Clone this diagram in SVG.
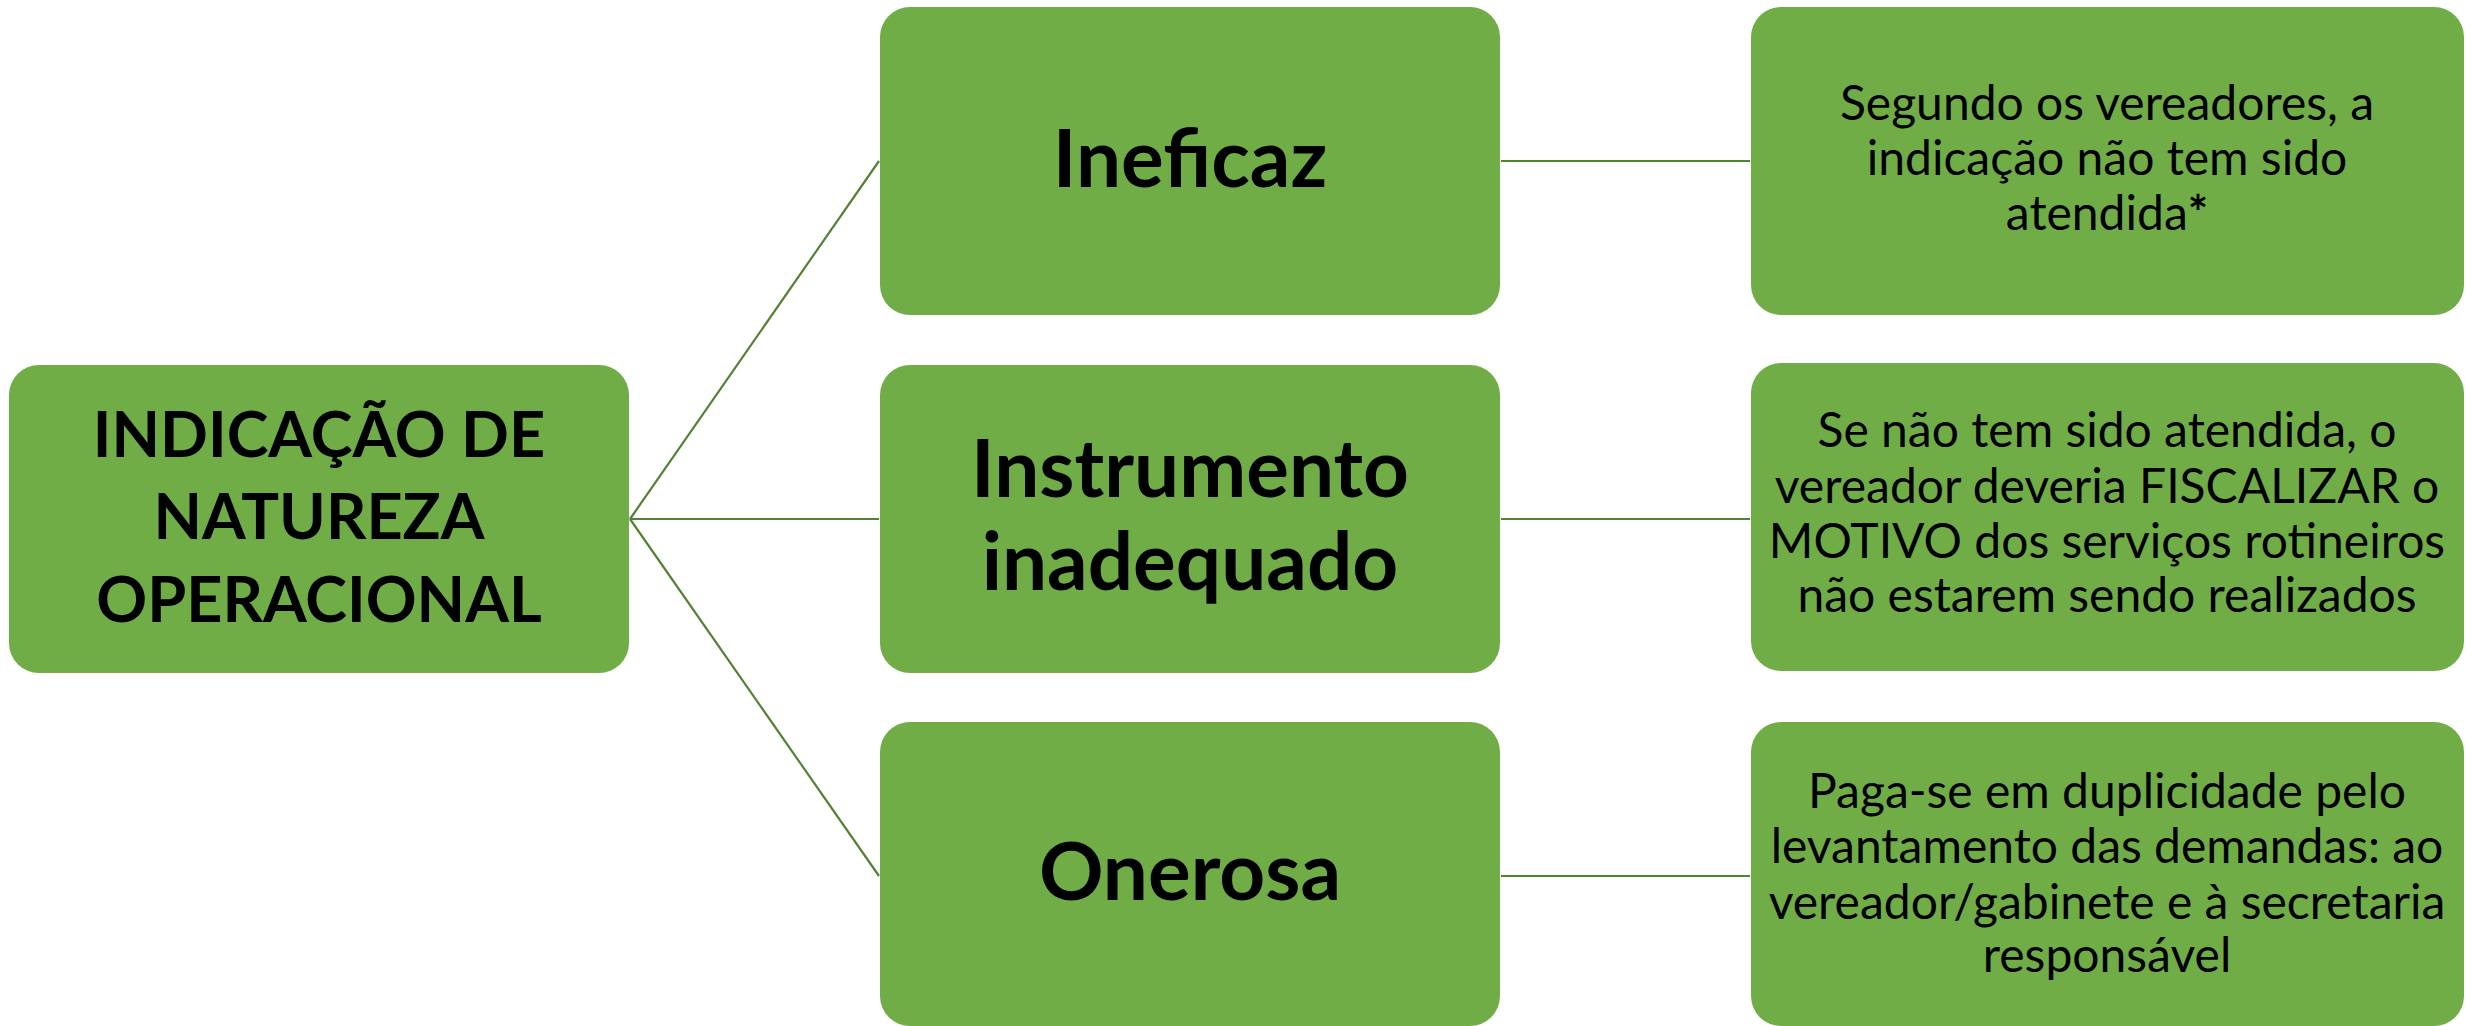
<svg xmlns="http://www.w3.org/2000/svg" width="2466" height="1026" viewBox="0 0 2466 1026">
<style>
.box{fill:#70AD47;}
.conn{stroke:#548235;stroke-width:2.2;fill:none;}
.t{font-family:Lato,"Open Sans","Liberation Sans",sans-serif;fill:#000;text-anchor:middle;}
.b{font-weight:bold;}
.big{font-size:80px;}
.root{font-size:63px;}
.small{font-size:48px;}
</style>
<rect width="2466" height="1026" fill="#fff"/>
<g id="connectors">
<line class="conn" x1="630" y1="519" x2="879" y2="161"/>
<line class="conn" x1="630" y1="519" x2="879" y2="519"/>
<line class="conn" x1="630" y1="519" x2="879" y2="876"/>
<line class="conn" x1="1501" y1="161" x2="1750" y2="161"/>
<line class="conn" x1="1501" y1="519" x2="1750" y2="519"/>
<line class="conn" x1="1501" y1="876" x2="1750" y2="876"/>
</g>
<g id="root">
<rect class="box" x="9" y="365" width="620" height="308" rx="30"/>
<text class="t b root"><tspan x="319" y="457">INDICAÇÃO DE</tspan><tspan x="319" y="539">NATUREZA</tspan><tspan x="319" y="622">OPERACIONAL</tspan></text>
</g>
<g id="ineficaz">
<rect class="box" x="880" y="7" width="620" height="308" rx="30"/>
<text class="t b big" x="1190" y="187">Ineficaz</text>
</g>
<g id="instrumento">
<rect class="box" x="880" y="365" width="620" height="308" rx="30"/>
<text class="t b big"><tspan x="1190" y="497">Instrumento</tspan><tspan x="1190" y="590">inadequado</tspan></text>
</g>
<g id="onerosa">
<rect class="box" x="880" y="722" width="620" height="304" rx="30"/>
<text class="t b big" x="1190" y="900">Onerosa</text>
</g>
<g id="desc1">
<rect class="box" x="1751" y="7" width="713" height="308" rx="30"/>
<text class="t small"><tspan x="2107" y="120">Segundo os vereadores, a</tspan><tspan x="2107" y="175">indicação não tem sido</tspan><tspan x="2107" y="230">atendida<tspan font-weight="bold">*</tspan></tspan></text>
</g>
<g id="desc2">
<rect class="box" x="1751" y="363" width="713" height="308" rx="30"/>
<text class="t small"><tspan x="2107" y="447">Se não tem sido atendida, o</tspan><tspan x="2107" y="503">vereador deveria FISCALIZAR o</tspan><tspan x="2107" y="558">MOTIVO dos serviços rotineiros</tspan><tspan x="2107" y="612">não estarem sendo realizados</tspan></text>
</g>
<g id="desc3">
<rect class="box" x="1751" y="722" width="713" height="304" rx="30"/>
<text class="t small"><tspan x="2107" y="808">Paga-se em duplicidade pelo</tspan><tspan x="2107" y="863">levantamento das demandas: ao</tspan><tspan x="2107" y="919">vereador/gabinete e à secretaria</tspan><tspan x="2107" y="972">responsável</tspan></text>
</g>
</svg>
